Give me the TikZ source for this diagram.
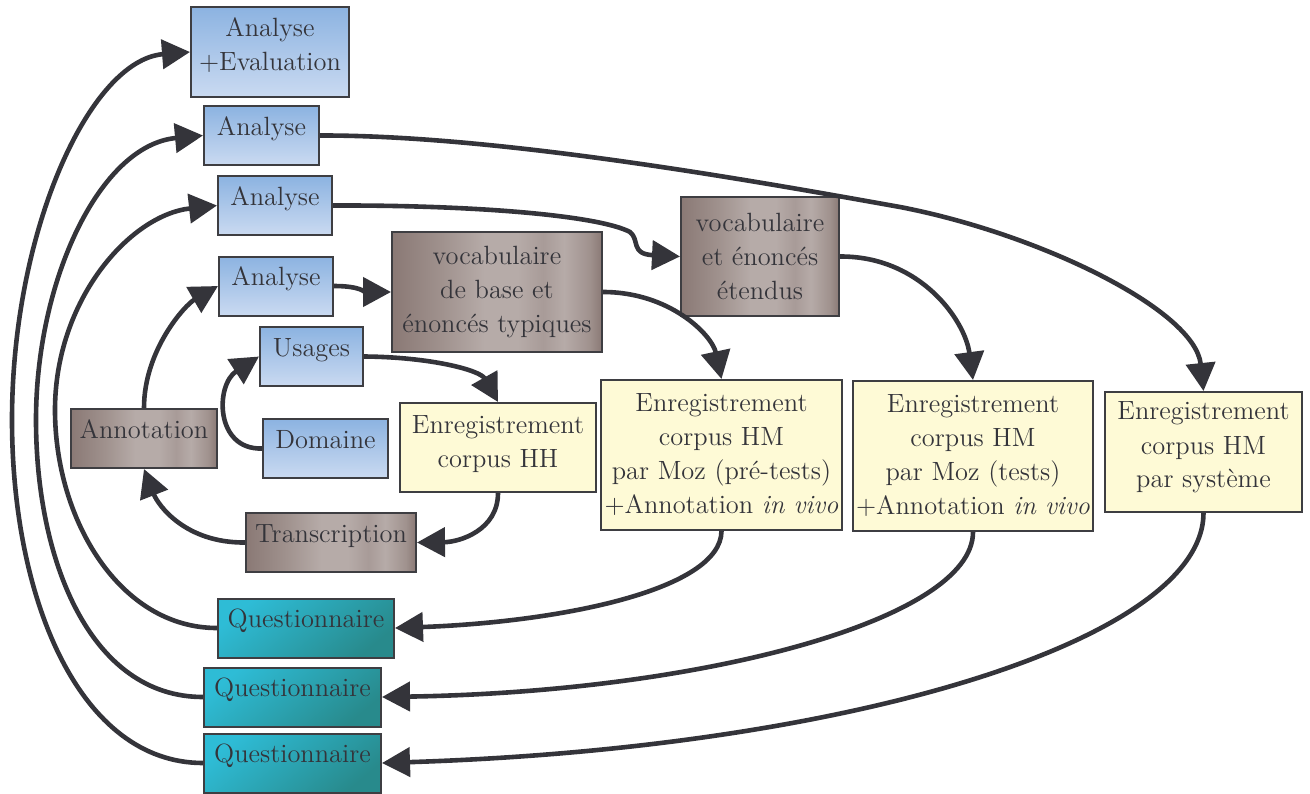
\documentclass[tikz,border=0pt]{standalone}
\usepackage{fontspec}
\usetikzlibrary{arrows.meta}
\definecolor{txtc}{RGB}{52,52,58}
\definecolor{bordc}{RGB}{62,62,66}
\definecolor{arrc}{RGB}{52,52,58}
\definecolor{blueT}{RGB}{140,179,225}
\definecolor{blueB}{RGB}{202,218,241}
\definecolor{yel}{RGB}{254,250,214}
\definecolor{tealA}{RGB}{46,188,214}
\definecolor{tealB}{RGB}{40,138,140}
\definecolor{brD}{RGB}{138,121,117}
\definecolor{brM}{RGB}{160,146,142}
\definecolor{brL}{RGB}{182,171,168}
\definecolor{brM2}{RGB}{168,155,152}
\pgfdeclarehorizontalshading{brownband}{100bp}{color(0bp)=(brD); color(25bp)=(brD); color(37bp)=(brM); color(47bp)=(brL); color(55bp)=(brL); color(61bp)=(brM2); color(66bp)=(brL); color(72bp)=(brM); color(75bp)=(brD); color(100bp)=(brD)}
\begin{document}
\begin{tikzpicture}[x=0.5pt,y=-0.5pt,
  box/.style={draw=bordc, line width=1pt, inner sep=0pt, align=center, text=txtc,
    font=\fontsize{13.2}{17}\selectfont},
  bluebox/.style={box, top color=blueT, bottom color=blueB},
  brownbox/.style={box, shading=brownband},
  yelbox/.style={box, fill=yel},
  tealbox/.style={box, top color=tealA, bottom color=tealB, shading angle=40},
  oneline/.style={text height=14.5pt, text depth=15pt},
  arr/.style={draw=arrc, line width=2.3pt, -{Triangle[length=14pt,width=14.5pt]}}]
\useasboundingbox (0,0) rectangle (1310,793);

% nodes
\node[bluebox, minimum width=79pt, minimum height=45pt] (ae) at (270,52) {Analyse\\+Evaluation\\[-9pt]\mbox{}};
\node[bluebox, oneline, minimum width=57.5pt] (an2) at (261.5,135.5) {Analyse};
\node[bluebox, oneline, minimum width=57pt] (an3) at (275,205.5) {Analyse};
\node[bluebox, oneline, minimum width=57pt] (an4) at (276,286) {Analyse};
\node[brownbox, minimum width=105pt, minimum height=60pt] (vb) at (497,292) {vocabulaire\\de base et\\énoncés typiques};
\node[brownbox, minimum width=79pt, minimum height=59.5pt] (ve) at (760,256.5) {vocabulaire\\et énoncés\\étendus};
\node[yelbox, minimum width=98pt, minimum height=44.5pt] (hh) at (498,447.5) {Enregistrement\\corpus HH\\[-11pt]\mbox{}};
\node[yelbox, minimum width=120.5pt, minimum height=75pt] (pt) at (721.5,455) {Enregistrement\\corpus HM\\par Moz (pré-tests)\\+Annotation \textit{in vivo}};
\node[yelbox, minimum width=120pt, minimum height=75pt] (ts) at (973,456) {Enregistrement\\corpus HM\\par Moz (tests)\\+Annotation \textit{in vivo}};
\node[yelbox, minimum width=98.5pt, minimum height=60pt] (sy) at (1203.5,452) {Enregistrement\\corpus HM\\par système\\[-10pt]\mbox{}};
\node[bluebox, oneline, minimum width=51.5pt] (us) at (311.5,356.5) {Usages};
\node[bluebox, oneline, minimum width=62.5pt] (do) at (325.5,448.5) {Domaine};
\node[brownbox, oneline, minimum width=73pt] (ann) at (144,438.5) {Annotation};
\node[brownbox, oneline, minimum width=85pt] (tr) at (331,542.5) {Transcription};
\node[tealbox, oneline, minimum width=88pt] (q1) at (306,628) {Questionnaire};
\node[tealbox, oneline, minimum width=88.5pt] (q2) at (292.5,697) {Questionnaire};
\node[tealbox, oneline, minimum width=88.5pt] (q3) at (292.5,763) {Questionnaire};

% connectors
\draw[arr] (ann.north) .. controls (144,350) and (185,305) .. (an4.west);
\draw[arr] (do.west) .. controls (215,450) and (215,385) .. (us.west);
\draw[arr] (us.east) .. controls (430,357) and (480,370) .. (hh.north);
\draw[arr] (hh.south) .. controls (498,530) and (460,542) .. (tr.east);
\draw[arr] (tr.west) .. controls (185,543) and (158,505) .. (ann.south);
\draw[arr] (an4.east) .. controls (360,286) and (365,292) .. (vb.west);
\draw[arr] (vb.east) .. controls (670,292) and (712,335) .. (pt.north);
\draw[arr] (an3.east) .. controls (480,205) and (600,216) .. (630,232) .. controls (640,240) and (630,254) .. (ve.west);
\draw[arr] (ve.east) .. controls (920,256) and (965,320) .. (ts.north);
\draw[arr] (an2.east) .. controls (500,135) and (760,182) .. (900,207) .. controls (1040,234) and (1195,310) .. (sy.north);
\draw[arr] (pt.south) .. controls (721,590) and (560,622) .. (q1.east);
\draw[arr] (ts.south) .. controls (973,620) and (700,692) .. (q2.east);
\draw[arr] (sy.south) .. controls (1203,640) and (850,748) .. (q3.east);
\draw[arr] (q1.west) .. controls (120,628) and (55,520) .. (55,410) .. controls (55,300) and (130,215) .. (an3.west);
\draw[arr] (q2.west) .. controls (90,697) and (36,560) .. (36,420) .. controls (36,280) and (100,145) .. (an2.west);
\draw[arr] (q3.west) .. controls (80,763) and (12,600) .. (12,420) .. controls (12,230) and (90,60) .. (ae.west);
\end{tikzpicture}
\end{document}
